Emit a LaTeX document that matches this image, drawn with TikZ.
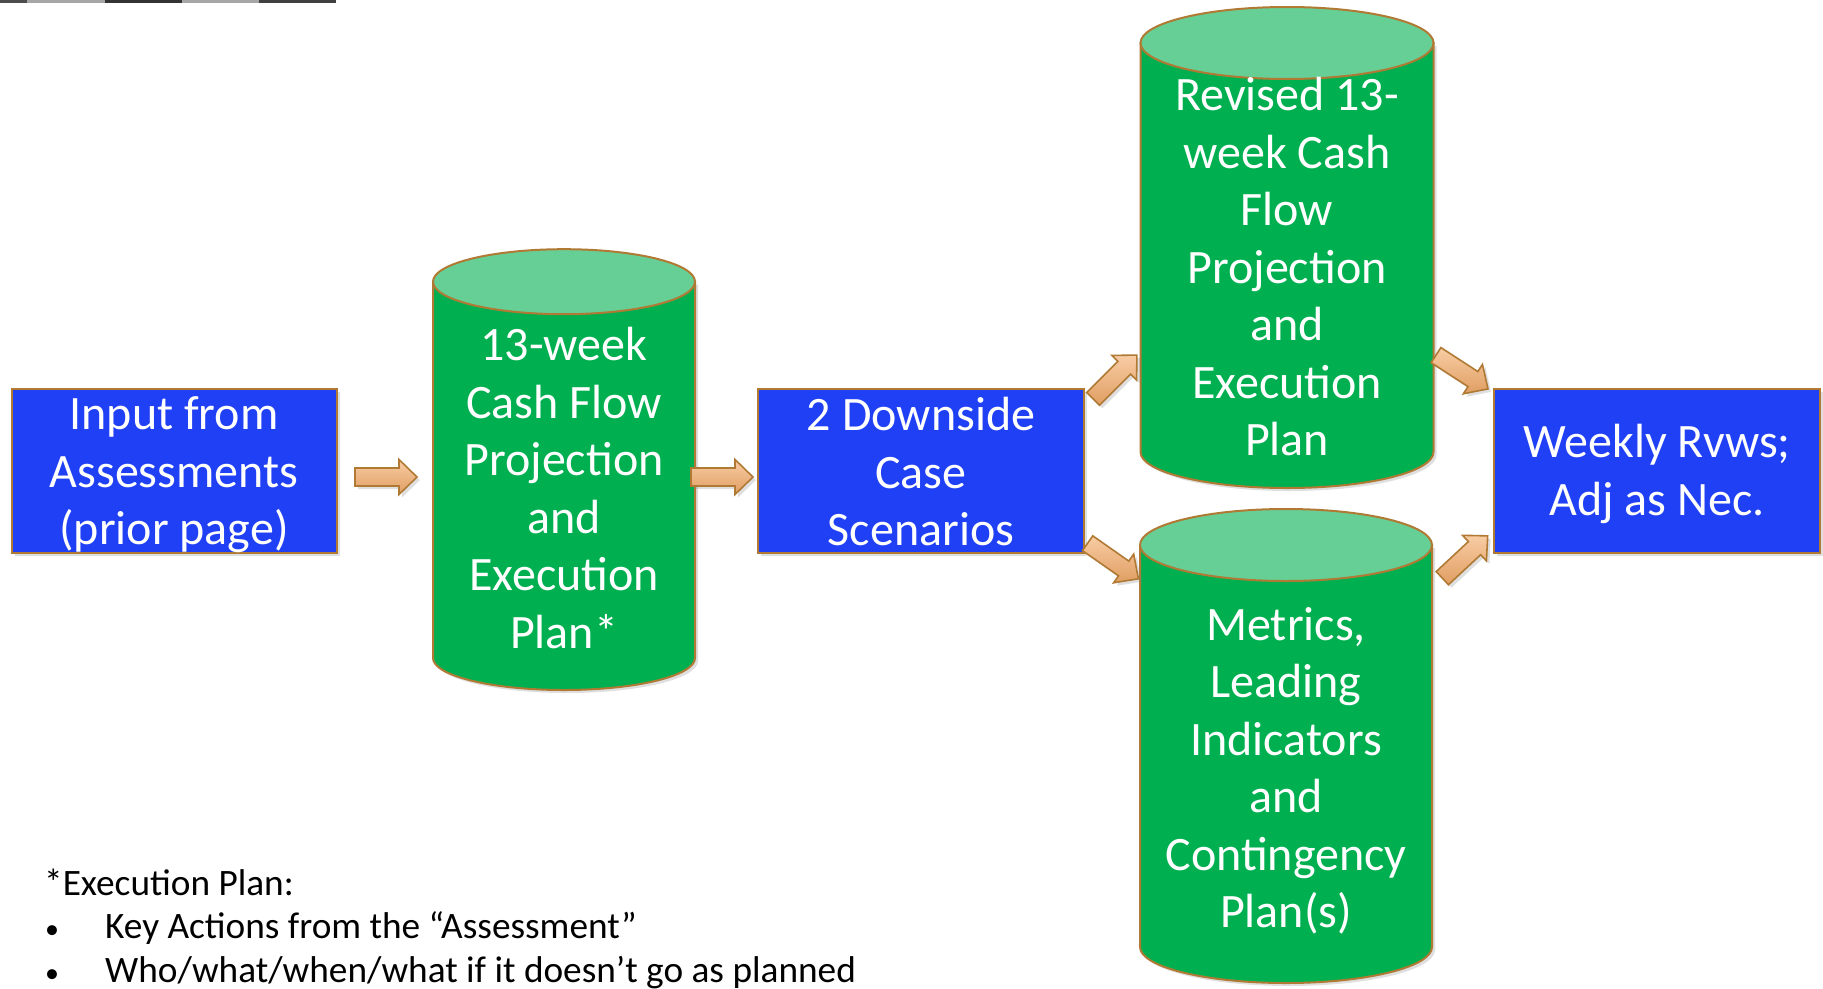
\documentclass[tikz,border=0pt]{standalone}
\usepackage{fontspec}
\setmainfont{Carlito}
\usetikzlibrary{shadows}
\definecolor{boxblue}{RGB}{32,64,245}
\definecolor{cylgreen}{RGB}{0,176,80}
\definecolor{cyltop}{RGB}{102,207,150}
\definecolor{edgebrown}{RGB}{176,122,52}
\definecolor{arrlight}{RGB}{248,204,164}
\definecolor{arrdark}{RGB}{224,158,98}
\tikzset{
  bluebox/.style={fill=boxblue, draw=edgebrown, line width=2pt,
    drop shadow={shadow xshift=3pt,shadow yshift=-3pt,opacity=0.25}},
  cylbody/.style={fill=cylgreen, draw=edgebrown, line width=2pt,
    drop shadow={shadow xshift=3pt,shadow yshift=-3pt,opacity=0.25}},
  cyltopst/.style={fill=cyltop, draw=edgebrown, line width=2pt},
  bigtext/.style={text=white, align=center, inner sep=0pt,
    font=\fontsize{48}{57.5}\selectfont},
  notetext/.style={text=black, inner sep=0pt, anchor=base west,
    font=\fontsize{37.3}{44}\selectfont},
  bullettext/.style={text=black, inner sep=0pt, anchor=base west,
    font=\fontsize{28}{44}\selectfont},
  arrowst/.style={top color=arrlight, bottom color=arrdark, draw=edgebrown,
    line width=1.6pt, line join=miter,
    drop shadow={shadow xshift=3pt,shadow yshift=-3pt,opacity=0.25}},
  blockarrow/.pic={
    \path[arrowst] (-31,-9) -- (13,-9) -- (13,-17.5) -- (31,0) -- (13,17.5)
      -- (13,9) -- (-31,9) -- cycle;
  }
}
\begin{document}
\begin{tikzpicture}[x=1pt,y=1pt]
\useasboundingbox (0,0) rectangle (1823,-988);
\fill[white] (0,0) rectangle (1823,-988);
% top-left strip
\fill[black!70] (0,0) rectangle (27,-3);
\fill[black!35] (27,0) rectangle (105,-3);
\fill[black!80] (105,0) rectangle (182,-3);
\fill[black!35] (182,0) rectangle (259,-3);
\fill[black!75] (259,0) rectangle (336,-3);

% boxes
\path[bluebox] (11.6,-389) rectangle (337,-553);
\node[bigtext] (b1) at (174,-475) {Input from\\Assessments\\(prior page)};
\path[bluebox] (758,-389) rectangle (1083.5,-553);
\node[bigtext] (b2) at (921,-472) {2 Downside\\Case\\Scenarios};
\path[bluebox] (1494,-389) rectangle (1819.5,-553);
\node[bigtext] (b3) at (1657,-474) {Weekly Rvws;\\Adj as Nec.};

% cylinder 1
\path[cylbody] (433,-281.7) -- (433,-658) arc[start angle=180,end angle=360,x radius=131,y radius=32] -- (695,-281.7) -- cycle;
\path[cyltopst] (564,-281.7) ellipse[x radius=131,y radius=32.5];
\node[bigtext] (c1) at (564,-488) {13-week\\Cash Flow\\Projection\\and\\Execution\\Plan*};

% cylinder 2
\path[cylbody] (1140.5,-43) -- (1140.5,-452) arc[start angle=180,end angle=360,x radius=146.5,y radius=36] -- (1433.5,-43) -- cycle;
\path[cyltopst] (1287,-43) ellipse[x radius=146.5,y radius=36];
\node[bigtext] (c2) at (1287,-267) {Revised 13-\\week Cash\\Flow\\Projection\\and\\Execution\\Plan};

% cylinder 3
\path[cylbody] (1140,-545) -- (1140,-947) arc[start angle=180,end angle=360,x radius=146,y radius=36] -- (1432,-545) -- cycle;
\path[cyltopst] (1286,-545) ellipse[x radius=146,y radius=36];
\node[bigtext] (c3) at (1286,-771) {Metrics,\\Leading\\Indicators\\and\\Contingency\\Plan(s)};

% block arrows
\pic (a1) at (386,-477) {blockarrow};
\pic (a2) at (722,-477) {blockarrow};
\pic[rotate=45] (a3) at (1115,-377) {blockarrow};
\pic[rotate=-35] (a4) at (1113,-561) {blockarrow};
\pic[rotate=-33] (a5) at (1462,-372) {blockarrow};
\pic[rotate=43] (a6) at (1465,-557) {blockarrow};

% note
\node[notetext] (n0) at (44,-895) {*Execution Plan:};
\node[bullettext] (n1b) at (45,-938) {•};
\node[notetext] (n1) at (105,-938) {Key Actions from the “Assessment”};
\node[bullettext] (n2b) at (45,-982) {•};
\node[notetext] (n2) at (105,-982) {Who/what/when/what if it doesn’t go as planned};
\end{tikzpicture}
\end{document}
